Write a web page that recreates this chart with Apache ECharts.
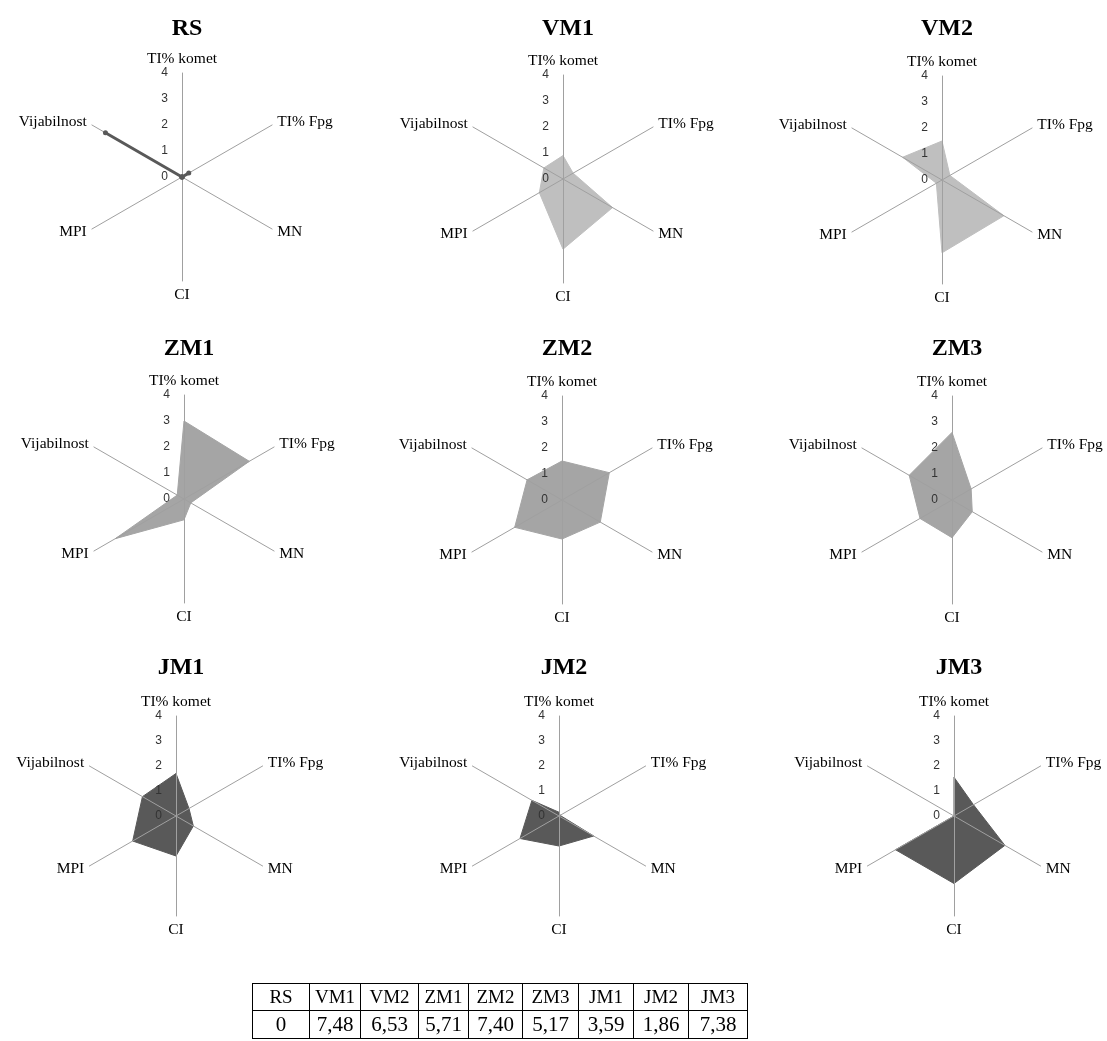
<!DOCTYPE html>
<html><head><meta charset="utf-8">
<script src="https://cdn.jsdelivr.net/npm/echarts@6/dist/echarts.min.js"></script>
<style>
html,body{margin:0;padding:0;background:#fff;}
#chart{width:1107px;height:1041px;position:absolute;left:0;top:0;}
#tbl{position:absolute;left:252px;top:983px;border-collapse:collapse;font-family:"Liberation Serif","Times New Roman",serif;color:#000;}
#tbl td{border:1px solid #000;text-align:center;padding:0;line-height:1;}
#tbl tr.h td{font-size:19px;height:27px;vertical-align:top;padding-top:3px;box-sizing:border-box;}
#tbl tr.v td{font-size:21px;height:27px;}
</style></head><body>
<div id="chart"></div>
<table id="tbl"></table>
<script>
// Axis names (clockwise from top, as in the reference)
const indicatorNames = ['TI% komet', 'TI% Fpg', 'MN', 'CI', 'MPI', 'Vijabilnost'];
const groups = ['RS', 'VM1', 'VM2', 'ZM1', 'ZM2', 'ZM3', 'JM1', 'JM2', 'JM3'];
const tickLabels = ['0', '1', '2', '3', '4'];
const axisMax = 4;

// values: TI% komet, TI% Fpg, MN, CI, MPI, Vijabilnost
const RS  = [0, 0.3, 0, 0, 0, 3.4];
const VM1 = [0.9, 0.45, 2.2, 2.7, 1.05, 0.85];
const VM2 = [1.5, 0.35, 2.75, 2.8, 0.25, 1.75];
const ZM1 = [3.0, 2.9, 0.3, 0.8, 3.05, 0.3];
const ZM2 = [1.5, 2.1, 1.7, 1.5, 2.1, 1.55];
const ZM3 = [2.6, 0.85, 0.9, 1.45, 1.42, 1.9];
const JM1 = [1.7, 0.6, 0.8, 1.6, 2.0, 1.55];
const JM2 = [0.15, 0.05, 1.6, 1.2, 1.8, 1.25];
const JM3 = [1.55, 0.9, 2.35, 2.7, 2.7, 0];

// table below the charts
const tableValues = ['0', '7,48', '6,53', '5,71', '7,40', '5,17', '3,59', '1,86', '7,38'];

const seriesValues = [RS, VM1, VM2, ZM1, ZM2, ZM3, JM1, JM2, JM3];

// layout (pixels)
const centers = [[182, 177], [563, 179], [942, 180], [184, 499], [562, 500], [952, 500], [176, 816], [559, 816], [954, 816]];
const radii = [104, 104, 104, 104, 104, 104, 100, 100, 100];
const titleTops = [12, 12, 12, 332, 332, 332, 651, 651, 651];
const fills = [null, '#bfbfbf', '#bfbfbf', '#a5a5a5', '#a5a5a5', '#a5a5a5', '#595959', '#595959', '#595959'];

// ECharts radar runs counter-clockwise from the top; reorder so the reference's clockwise layout results
const ccwOrder = [0, 5, 4, 3, 2, 1];

const serif = '"Liberation Serif", "Times New Roman", serif';

const radars = [], series = [], titles = [];
groups.forEach((g, i) => {
  radars.push({
    z: 5,
    center: centers[i],
    radius: radii[i],
    startAngle: 90,
    splitNumber: 4,
    shape: 'polygon',
    nameGap: 6,
    axisName: { color: '#000', fontFamily: serif, fontSize: 15.5 },
    indicator: ccwOrder.map((k, j) => {
      const ind = { name: indicatorNames[k], min: 0, max: axisMax };
      if (j === 0) {
        ind.axisLabel = {
          show: true, color: '#333', fontSize: 12, fontFamily: '"Liberation Sans", Arial, sans-serif',
          margin: 14, formatter: v => tickLabels[Math.round(v)] ?? ''
        };
      }
      return ind;
    }),
    axisLine: { lineStyle: { color: '#a0a0a0', width: 1 } },
    axisTick: { show: false },
    axisLabel: { show: false },
    splitLine: { show: false },
    splitArea: { show: false }
  });
  const vals = ccwOrder.map(k => seriesValues[i][k]);
  if (i === 0) {
    series.push({
      type: 'radar', radarIndex: i, silent: true, z: 6,
      symbol: 'circle', symbolSize: 5,
      itemStyle: { color: '#595959' },
      lineStyle: { color: '#595959', width: 3 },
      data: [{ value: vals, name: g }]
    });
  } else {
    series.push({
      type: 'radar', radarIndex: i, silent: true, z: 2,
      symbol: 'none',
      lineStyle: { color: fills[i], width: 1 },
      areaStyle: { color: fills[i], opacity: 1 },
      data: [{ value: vals, name: g }]
    });
  }
  titles.push({
    text: g, left: centers[i][0], top: titleTops[i], textAlign: 'center',
    textStyle: { fontFamily: serif, fontWeight: 'bold', fontSize: 24, color: '#000' }
  });
});

const chart = echarts.init(document.getElementById('chart'), null, { renderer: 'canvas' });
chart.setOption({
  animation: false,
  backgroundColor: '#fff',
  title: titles,
  radar: radars,
  series: series
});

// table
const tbl = document.getElementById('tbl');
const colW = [57, 51, 58, 50, 54, 56, 55, 55, 59];
const hr = document.createElement('tr'); hr.className = 'h';
const vr = document.createElement('tr'); vr.className = 'v';
groups.forEach((g, i) => {
  const a = document.createElement('td'); a.textContent = g; a.style.width = colW[i] + 'px'; hr.appendChild(a);
  const b = document.createElement('td'); b.textContent = tableValues[i]; vr.appendChild(b);
});
tbl.appendChild(hr); tbl.appendChild(vr);
</script>
</body></html>
